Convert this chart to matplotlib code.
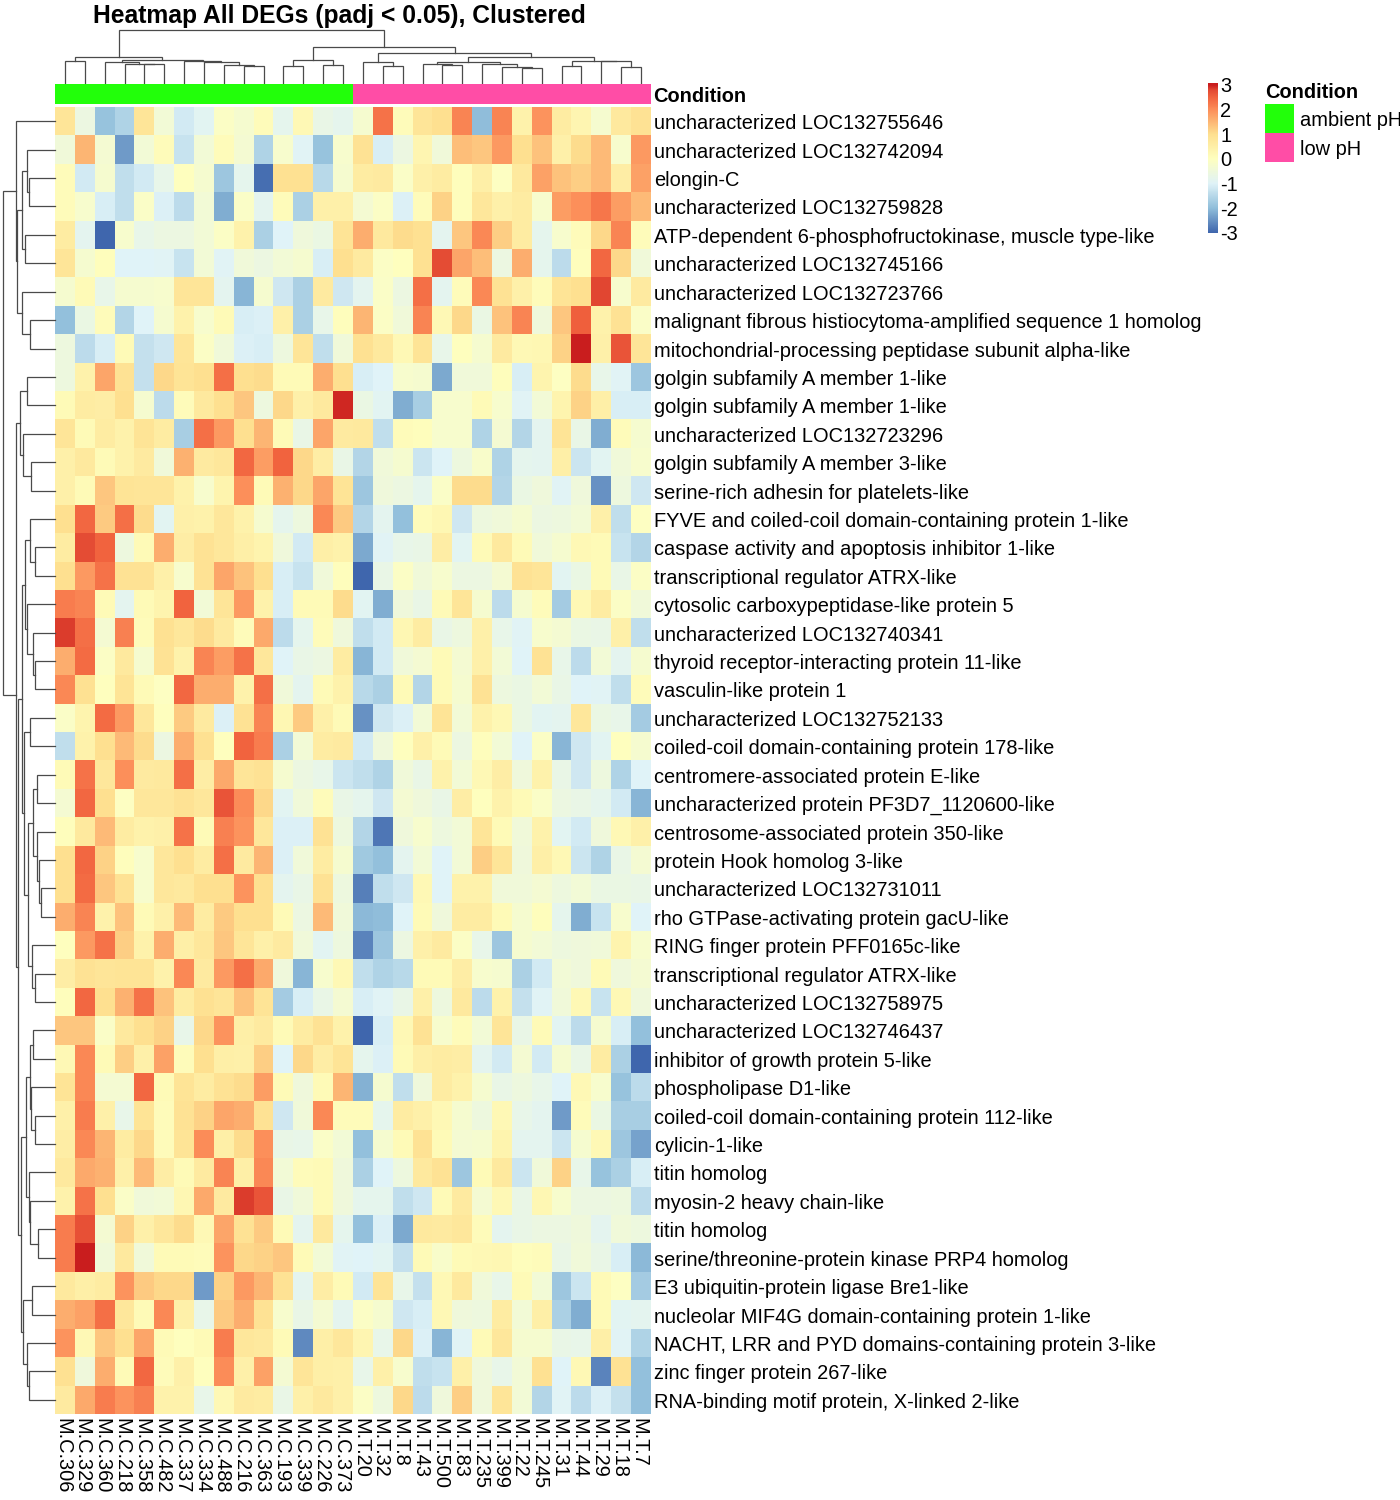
import matplotlib
matplotlib.use("Agg")
import matplotlib.pyplot as plt
import numpy as np
from matplotlib.colors import LinearSegmentedColormap, Normalize
from matplotlib.transforms import ScaledTranslation

plt.rcParams['font.family'] = ['Liberation Sans', 'DejaVu Sans']

samples = ["M.C.306","M.C.329","M.C.360","M.C.218","M.C.358","M.C.482","M.C.337","M.C.334","M.C.488","M.C.216",
           "M.C.363","M.C.193","M.C.339","M.C.226","M.C.373","M.T.20","M.T.32","M.T.8","M.T.43","M.T.500",
           "M.T.83","M.T.235","M.T.399","M.T.22","M.T.245","M.T.31","M.T.44","M.T.29","M.T.18","M.T.7"]
conditions = ["ambient pH"]*15 + ["low pH"]*15
genes = ["uncharacterized LOC132755646","uncharacterized LOC132742094","elongin-C","uncharacterized LOC132759828",
 "ATP-dependent 6-phosphofructokinase, muscle type-like","uncharacterized LOC132745166","uncharacterized LOC132723766",
 "malignant fibrous histiocytoma-amplified sequence 1 homolog","mitochondrial-processing peptidase subunit alpha-like",
 "golgin subfamily A member 1-like","golgin subfamily A member 1-like","uncharacterized LOC132723296",
 "golgin subfamily A member 3-like","serine-rich adhesin for platelets-like","FYVE and coiled-coil domain-containing protein 1-like",
 "caspase activity and apoptosis inhibitor 1-like","transcriptional regulator ATRX-like","cytosolic carboxypeptidase-like protein 5",
 "uncharacterized LOC132740341","thyroid receptor-interacting protein 11-like","vasculin-like protein 1","uncharacterized LOC132752133",
 "coiled-coil domain-containing protein 178-like","centromere-associated protein E-like","uncharacterized protein PF3D7_1120600-like",
 "centrosome-associated protein 350-like","protein Hook homolog 3-like","uncharacterized LOC132731011",
 "rho GTPase-activating protein gacU-like","RING finger protein PFF0165c-like","transcriptional regulator ATRX-like",
 "uncharacterized LOC132758975","uncharacterized LOC132746437","inhibitor of growth protein 5-like","phospholipase D1-like",
 "coiled-coil domain-containing protein 112-like","cylicin-1-like","titin homolog","myosin-2 heavy chain-like","titin homolog",
 "serine/threonine-protein kinase PRP4 homolog","E3 ubiquitin-protein ligase Bre1-like","nucleolar MIF4G domain-containing protein 1-like",
 "NACHT, LRR and PYD domains-containing protein 3-like","zinc finger protein 267-like","RNA-binding motif protein, X-linked 2-like"]

zscores = [
[.8,-.6,-1.9,-1.6,.8,-.4,-1.15,-.9,-.1,-.3,.1,-.8,.2,-.7,-.8,-.3,2.3,.1,.8,1.0,2.1,-2.0,2.1,.4,1.9,.6,.3,-.3,.7,.9],
[-.45,1.5,-.35,-2.4,-.4,.1,-1.3,-.4,.1,-.35,-1.6,-.25,-.95,-1.9,-.25,.9,-1.1,-.6,.3,-.45,1.4,1.3,1.85,1.0,1.35,.45,1.05,1.45,-.25,1.85],
[.1,-1.15,-.3,-1.4,-1.15,-.75,0,-.3,-1.85,-.8,-2.9,.95,.95,-1.5,-.3,.6,.65,-.15,.45,.6,.05,.5,-.05,.7,1.75,1.35,1.2,1.45,.55,1.75],
[.1,-.25,-1.1,-1.4,-.15,-1.05,-1.45,-.4,-2.2,-.15,-.85,.1,-1.65,.45,.45,-.35,-.1,-1.05,.1,1.15,.05,.75,.45,.6,-.25,1.8,1.95,2.25,1.8,1.45],
[.6,-.85,-3,-.25,-.75,-.6,-.6,-.4,-.1,.4,-1.65,-1,-.5,-.65,.85,1.6,.7,1.05,.95,-.85,1.3,2.05,1.2,.6,-.8,-.25,.1,1.1,2.1,.1],
[.8,-.3,.05,-1.0,-1,-.95,-1.3,-.4,-.95,-.45,-.6,-.4,-.3,-1.1,1.0,.65,-.1,0,.95,2.75,1.7,1.4,-.6,1.6,-.8,-1.45,.05,2.45,1.1,-.45],
[-.3,.15,-.75,-.3,-.3,-.25,.8,.8,-.85,-2.1,-.3,-1.2,-1.65,.65,-1.2,-.85,-.15,-.6,2.35,-.85,.1,2.05,.9,.45,.1,.85,1.0,2.8,-.25,.65],
[-1.95,-.65,.1,-1.55,-1,-.3,.4,-.25,.15,-1.1,-1.05,.45,-1.65,-.75,.05,1.5,-.1,-.45,2.1,.2,1.1,-.65,1.35,2.1,-.5,1.3,2.55,.4,.9,-.15],
[-.55,-1.45,-1.1,.15,-1.35,-1.2,.8,-.1,-.45,-1.05,-1.1,-.55,.8,-1.4,-.45,.95,.7,.2,.85,-.75,0,-.3,.65,.2,.25,1.15,3,.45,2.65,.8],
[-.55,.4,1.7,.9,-1.35,1.1,.85,1.0,2.35,1.0,1.05,.15,.15,1.6,1.0,-1.1,-1.0,-.25,-.3,-2.25,-.45,-.45,.05,-1.1,.35,-.05,1.05,-.75,-.95,-1.85],
[.15,.6,.55,1.0,-.3,-1.45,.1,.7,1.0,1.3,-.55,1.1,.45,.7,2.95,-.65,-.9,-2.2,-1.7,-.25,-.25,.15,-.25,-.95,-.4,.35,1.15,.5,-1.1,-1.1],
[.8,.15,.6,.4,.85,.6,-1.7,2.35,1.85,1.0,1.5,.15,-.7,1.7,.65,.7,-1.4,.1,.05,-.25,-.25,-1.6,-.35,-1.55,-.85,.85,-.7,-2.2,.1,-.3],
[.45,.7,.15,.4,.65,-.45,1.55,.65,.75,2.45,1.8,2.5,1.1,.55,-.7,-1.55,-.45,-.3,-1.25,-1.0,-.55,-.2,-1.6,-.8,-.85,.5,-1.25,-.9,-.45,-.25],
[.45,.15,1.3,.85,.8,.8,.4,-.25,.35,1.95,.15,1.55,1.1,1.7,.85,-1.85,-.5,-.6,-.8,-.15,1.05,1.05,-1.55,-.65,-.5,-.95,-.5,-2.5,-.55,-1.2],
[1,2.45,1.25,2.35,1.05,-.9,.45,.4,.75,.4,-.3,-.8,-.55,2.05,1.25,-1.55,-.85,-1.95,.1,.25,-1.2,-.55,-.45,-.3,-.6,-.55,-.4,.45,-1.4,-.05],
[.6,2.75,2.5,-.55,.15,1.6,.55,.9,.75,.5,.35,-.5,-1.15,.5,.4,-2.25,-.95,-.75,-.7,.55,-.9,.15,.7,.15,-.45,-.3,.2,.15,-1.3,-1.55],
[1.0,1.85,2.3,.9,.9,.45,-.25,.9,1.7,1.35,1.0,-1.1,-1.3,-.45,.05,-3,-.7,-.1,-.45,-.25,-.6,-.6,-.35,.9,.8,-.9,-.65,.15,-.7,-.1],
[2.2,2.1,.15,-.85,.15,.35,2.5,-.4,.8,1.85,.4,-1.1,.15,.15,1.05,-.9,-2.2,-.5,-.7,.15,.8,-.3,-1.45,-.3,.1,-1.75,.2,.6,-.1,-.45],
[2.85,2.35,-.35,2.15,.1,.95,.75,1.05,.65,.1,1.65,-1.45,-.8,.1,-.5,-1.4,-1.15,.25,.6,-.7,-.55,.45,-.75,-.95,-.25,-.35,-.65,-.7,.45,-1.4],
[1.6,2.4,-.1,.7,-.3,.9,.4,2.1,1.8,2.3,.75,-1,-.7,-.6,.6,-2.1,-1.15,-.45,-.35,.15,-.35,.45,-.4,-1.0,.9,-.75,-1.45,-.4,-.85,-.3],
[2.05,.95,0,.85,.15,-.05,2.45,1.6,1.6,.4,2.35,-.45,-.85,.15,.4,-1.5,-1.65,.15,-1.55,.15,-.3,.9,-.55,-.65,-.4,-.7,-1.0,-.95,-1.4,.1],
[-.15,.35,2.4,1.85,.75,0,1.25,.65,-1.05,.9,2.1,.25,1.25,.45,.15,-2.5,-1.2,-1.05,-.4,.85,-.4,.4,.2,-.65,-.9,-.85,.75,-.65,-.75,-1.75],
[-1.4,.4,1.0,1.45,1.05,-.6,1.6,.95,0,2.5,2.2,-1.65,-.4,.6,.65,-1.15,-.5,0,.45,.15,-.6,.05,-.4,-1,-.1,-2.1,-1.2,-.9,0,-.3],
[.15,2.3,.75,1.95,.65,.7,2.35,.55,1.65,.8,.9,-.3,-.6,-.75,-1.25,-1.4,-1.6,-.45,-.7,.4,-.4,.2,.55,-.5,.4,-.7,-1.2,-.55,-1.6,-1],
[-.35,2.45,1.0,-.05,.75,.75,.9,.75,2.65,2,1.1,-.9,-.45,.1,-.7,-.8,-1.2,-.35,-.5,-.7,.55,0,.4,.15,-.15,-.6,-.7,-.8,-1.15,-2.1],
[.05,.7,1.45,.6,.4,.45,2.3,.15,2.15,1.9,.75,-1.05,-1.05,.9,-.55,-1.55,-2.8,-.5,-.25,-.55,-.4,.8,.15,-.45,.4,-.9,-1.15,-.5,.2,.45],
[1.0,2.45,1.15,.05,-.25,.75,1.0,.6,2.35,.65,1.5,-1.05,-.45,.6,-.3,-1.8,-1.95,-.85,-.4,-1,-.4,1.2,.8,-.5,.5,.2,-1.25,-1.6,-.7,-.35],
[1.0,2.4,1.3,.9,-.25,.75,.7,1.0,1.0,1.9,1.0,-.85,-.7,.9,-.55,-2.7,-1.4,-1.2,.2,-1,.4,.4,-.45,-.45,-.35,-.55,-.4,-.65,-.65,-.7],
[1.6,2.1,.4,1.35,.15,.45,1.45,.6,1.25,1,1,.15,-.6,1.45,-.45,-2.05,-2.0,-1,.15,-.5,.6,.6,.15,-.3,.05,-.8,-2.2,-1.3,-.25,-1],
[0,1.85,2.3,1.2,.4,1.6,.5,.75,1.3,.8,.45,.65,-.45,-.9,-.55,-2.65,-1.85,-.6,.45,.65,-.1,-.75,-1.85,-.3,-.4,-.55,-.5,-.45,.35,-.25],
[.55,.9,.8,.85,.85,.4,2.05,.65,1.85,2.35,1.65,-.5,-2.1,-.25,.2,-1.4,-1.6,-1.5,.15,.15,.55,-.25,-.3,-1.65,-1.15,-.4,-.5,.15,-.5,-.35],
[.05,2.45,1.0,1.55,2.3,1.35,.6,.95,.8,1.35,.85,-1.75,-1.1,-.7,-.35,-1.1,-.95,-.7,.45,-.55,.7,-1.45,.4,-1.35,-.95,-.45,.2,-1.3,.2,-.5],
[1.3,1.3,-.15,.7,1.0,1.15,-.75,1.1,1.9,.5,.65,.15,.6,.9,.4,-3,-1.1,.2,.9,-.25,.1,-.4,.8,-.7,.15,-.9,-1.45,-.3,-1.1,-1.95],
[.2,2.05,.15,1.2,.45,1.75,.1,1,.5,.45,1.2,-1,1.1,.55,.85,-.8,-1.05,.15,.5,.6,.55,-.85,-1.15,-.35,-1.15,-.3,-.7,.6,-1.65,-3],
[.85,2.05,-.35,-.35,2.45,.15,.85,.6,.9,1.05,1.8,.15,-.5,.15,1.5,-2.15,-.3,-1.4,-.5,.6,.4,-.3,-.7,-.55,-.75,-1,.2,-.25,-1.9,-1.45],
[.45,2.2,.45,-.75,.85,.1,.9,1.15,1.7,1.6,.9,-1.2,-.45,2.05,.1,.1,-.8,.6,.45,.2,-.3,-.55,.2,-.75,-.85,-2.4,.1,-.65,-1.7,-1.7],
[.55,2.05,1.5,.6,1.1,.1,.85,2.0,.5,1.05,1.95,-.7,-.75,-.15,-.4,-1.95,-.3,.15,.9,.15,-.35,-.3,.35,-.85,-.85,-1.25,-.3,.2,-1.85,-2.3],
[.7,1.65,1.55,.45,1.45,.55,.15,.65,2.1,.5,2.05,-.4,.1,.15,-.5,-1.65,-1.0,-.55,.7,.9,-1.85,.15,.7,-1.25,-.45,1.15,-.75,-1.9,-1.65,-1.1],
[.4,2.3,1,-.15,-.45,-.4,.25,1.65,.65,2.85,2.65,-.7,-.45,.15,-.5,-.8,-.8,-1.4,-1.2,.15,.65,-.35,.2,-.7,.25,-.25,-.6,-.6,-.55,-1.45],
[2.2,2.7,-.35,1.15,.45,.75,1.05,.2,1.7,.9,1.25,.15,-.85,.7,-.8,-1.95,-1.05,-2.25,.7,.65,.75,.1,-.85,-.7,-.6,-.6,-.5,-.85,-.45,-.55],
[2.2,3.0,-.45,.7,-.45,.15,.15,.1,1.9,1.1,1.15,1.3,.15,-.4,-.95,-1,-.9,-1.35,.15,-.2,.15,.2,.25,.05,.1,-.7,-.45,-.7,-1.1,-2.05],
[.7,.5,.6,1.9,1.25,1.1,1.1,-2.4,1.15,1.85,1.5,.9,-.85,.55,.15,-1.15,.85,-.75,-1.35,.2,.7,-.45,-.75,.15,-.4,-1.85,-1.25,.15,-.05,-1.75],
[1.6,1.75,2.35,.75,.15,2.05,.45,-.75,1.25,1.6,.9,-.25,-.7,-.35,-.85,-.1,-.3,-1.2,-1.1,.2,-.5,-.55,.6,-.4,.5,-1.65,-2.2,.15,-.9,-.85],
[1.9,.2,1.3,1.0,1.7,.15,0,.15,2.2,.75,.7,.15,-2.6,.5,.75,.3,-.75,1.1,-1.05,-2.1,-.95,.15,.75,-.3,-.3,-.7,-.75,.5,-.95,-1.6],
[.95,-.5,1.6,.15,2.45,.1,.45,0,2.0,.45,1.75,-.35,.8,.5,.45,-.75,.45,-.25,-1.4,-1.3,.45,-.5,-.75,-.4,.95,-1,.2,-2.65,.9,-1.95],
[.65,1.65,2.2,1.9,2.15,.4,.4,-.75,.2,.65,.6,-.7,.45,.7,.45,-.1,-.55,1.1,-1.45,-.5,1.2,-.5,.8,-.4,-1.55,-.95,-1.45,-1.05,-1.35,-1.95],
]

# merge trees: (merge height, left branch, right branch); integers are leaf positions
col_tree = (157,
  (78, (65, 0, 1),
       (67, (61, 2, (57, 3, (55, 4, 5))),
            (66, 6, (63, 7, (54, 8, (49, 9, 10)))))),
  (108, (69, (51, 11, 12), (52, 13, 14)),
        (90, (63, 15, (51, 16, 17)),
             (76, (63, (56, 18, (52, 19, 20)), (57, 21, (48, 22, (43, 23, 24)))),
                  (66, (49, 25, 26), (65, 27, (48, 28, 29)))))))
row_tree = (157,
  (116, 0, (113, (98, (85, 1, (77, 2, 3)), (89, 4, 5)), (99, 6, (76, 7, 8)))),
  (116, (105, (85, 9, 10), (97, 11, (72, 12, 13))),
        (111,
         (100,
          (90, (76, 14, (59, 15, 16)), (83, 17, (65, 18, (60, 19, 20)))),
          (92, (76, 21, 22),
               (80, (65, (55, 23, 24), (55, 25, (47, 26, (43, 27, 28)))),
                    (70, 29, (61, 30, 31))))),
         (103,
          (87, (76, (65, 32, 33), (72, 34, (61, 35, 36))),
               (77, 37, (75, 38, (50, 39, 40)))),
          (95, (68, 41, 42), (85, 43, (79, 44, 45)))))))

W, H = 1400, 1500
fig = plt.figure(figsize=(W/100, H/100), dpi=100, facecolor='white')
def axpx(x0, y0, x1, y1):
    return fig.add_axes([x0/W, 1-y1/H, (x1-x0)/W, (y1-y0)/H])

stop_values = [-3, -2, -1, 0, 1, 2, 2.5, 2.8, 3]
stop_colors = ['#3F66AD','#91BFDB','#E0F3F8','#FFFFBF','#FEE090','#FC8D59','#F2643F','#E34933','#C91D1E']
cmap = LinearSegmentedColormap.from_list('rdylbu', [((v+3)/6, c) for v, c in zip(stop_values, stop_colors)], N=256)
norm = Normalize(-3, 3)
FS = 14.4
DC = '#4a4a4a'

# heatmap
ax = axpx(55, 107, 651, 1414)
M = np.array(zscores)
ax.imshow(M, cmap=cmap, norm=norm, aspect='auto', interpolation='nearest', extent=(0, M.shape[1], M.shape[0], 0))
for s in ax.spines.values():
    s.set_visible(False)
ax.yaxis.tick_right()
ax.set_yticks(np.arange(len(genes))+.5, genes, fontsize=FS)
ax.set_xticks(np.arange(len(samples))+.5, samples, fontsize=FS, rotation=270)
ax.tick_params(length=0, pad=2)
ax.tick_params(axis='x', pad=3)
shift_x = ScaledTranslation(-2.5/100, 0, fig.dpi_scale_trans)
for t in ax.get_xticklabels():
    t.set_transform(t.get_transform() + shift_x)
shift_y = ScaledTranslation(0, -.5/100, fig.dpi_scale_trans)
for t in ax.get_yticklabels():
    t.set_transform(t.get_transform() + shift_y)

def draw(node, axd, vertical):
    if not isinstance(node, tuple):
        return node+.5, 0
    h, a, b = node
    pa, ha = draw(a, axd, vertical)
    pb, hb = draw(b, axd, vertical)
    xs, ys = [pa, pa, pb, pb], [ha, h, h, hb]
    if vertical:
        axd.plot(xs, ys, color=DC, lw=.9, solid_joinstyle='miter')
    else:
        axd.plot(ys, xs, color=DC, lw=.9, solid_joinstyle='miter')
    return (pa+pb)/2, h

# column dendrogram
axc = axpx(55, 30.3, 651, 82.7)
draw(col_tree, axc, True)
axc.set_xlim(0, len(samples)); axc.set_ylim(0, 157)
axc.axis('off')
for l in axc.lines: l.set_clip_on(False)

# row dendrogram
axr = axpx(2.7, 107, 55, 1414)
draw(row_tree, axr, False)
axr.set_ylim(len(genes), 0); axr.set_xlim(157, 0)
axr.axis('off')
for l in axr.lines: l.set_clip_on(False)

# annotation bar
cond_colors = {"ambient pH": '#22FF0A', "low pH": '#FF4DA6'}
axa = axpx(55, 84, 651, 104)
for i, c in enumerate(conditions):
    axa.bar(i+.5, 1, width=1, color=cond_colors[c], linewidth=0)
axa.set_xlim(0, len(samples)); axa.set_ylim(0, 1)
axa.axis('off')
fig.text(653.5/W, 1-96.5/H, 'Condition', fontsize=FS, fontweight='bold', va='center', ha='left')

# title
fig.text(339/W, 1-16/H, 'Heatmap All DEGs (padj < 0.05), Clustered', fontsize=17.7, fontweight='bold', va='center', ha='center')

# colour key
axk = axpx(1208, 83.2, 1218, 232.8)
grad = np.linspace(3.06, -3, 256).reshape(-1, 1)
axk.imshow(grad, cmap=cmap, norm=norm, aspect='auto', extent=(0, 1, -3, 3.06))
axk.set_xticks([])
axk.yaxis.tick_right()
axk.set_yticks(range(-3, 4), [str(v) for v in range(-3, 4)], fontsize=FS)
axk.tick_params(length=0, pad=1.5)
for s in axk.spines.values():
    s.set_visible(False)

# legend
fig.text(1265/W, 1-92/H, 'Condition', fontsize=FS, fontweight='bold', va='center', ha='left')
axl = axpx(1265, 104, 1294, 162)
for i, name in enumerate(cond_colors):
    axl.bar(.5, 1, bottom=1-i, width=1, color=cond_colors[name], linewidth=0)
    fig.text(1300/W, 1-(120.5+29*i)/H, name, fontsize=FS, va='center', ha='left')
axl.set_xlim(0, 1); axl.set_ylim(0, 2)
axl.axis('off')

fig.savefig('out.png', dpi=100, facecolor='white')
